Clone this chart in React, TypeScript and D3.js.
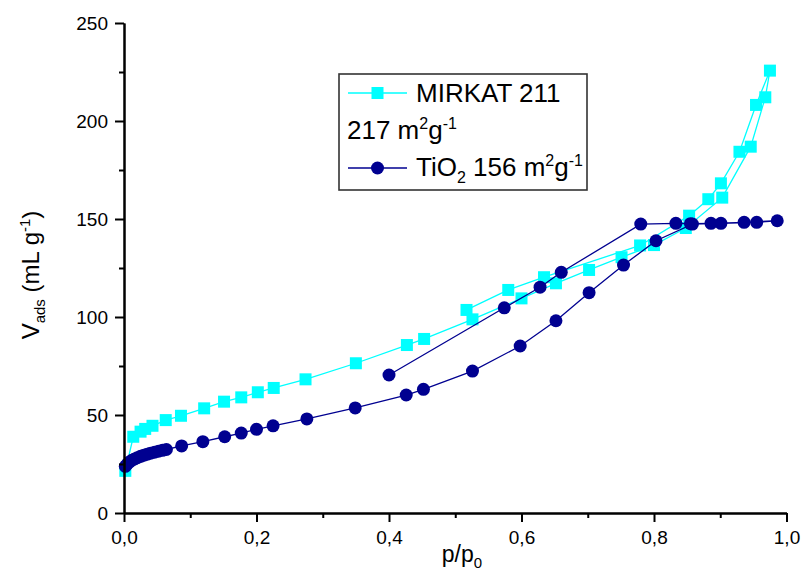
import React, { useEffect, useRef } from "react";
import * as d3 from "d3";

// MIRKAT 211 (adsorption then desorption)
const mirkatAdsP = [0.002, 0.014, 0.025, 0.032, 0.043, 0.063, 0.086, 0.121, 0.151, 0.177, 0.202, 0.226, 0.274, 0.350, 0.427, 0.453, 0.526, 0.600, 0.652, 0.702, 0.751, 0.800, 0.848, 0.903, 0.946, 0.968, 0.975];
const mirkatAdsV = [21.5, 38.9, 41.5, 42.9, 44.5, 47.4, 49.6, 53.4, 56.8, 59.0, 61.6, 63.8, 68.2, 76.4, 85.7, 88.8, 98.8, 109.5, 117.2, 124.0, 130.5, 136.7, 145.4, 160.9, 186.9, 212.1, 225.7];
const mirkatDesP = [0.954, 0.929, 0.901, 0.882, 0.853, 0.779, 0.634, 0.580, 0.517];
const mirkatDesV = [208.2, 184.3, 168.2, 160.1, 151.7, 136.5, 120.3, 113.8, 103.6];

// TiO2 (adsorption then desorption)
const tio2AdsP = [0.002, 0.005, 0.008, 0.012, 0.016, 0.020, 0.025, 0.030, 0.035, 0.040, 0.046, 0.052, 0.058, 0.064, 0.087, 0.119, 0.152, 0.177, 0.200, 0.225, 0.276, 0.349, 0.426, 0.452, 0.526, 0.598, 0.652, 0.702, 0.754, 0.803, 0.858, 0.901, 0.955, 0.986];
const tio2AdsV = [23.8, 25.0, 26.0, 26.9, 27.6, 28.2, 28.9, 29.5, 30.0, 30.5, 31.0, 31.5, 32.0, 32.4, 34.2, 36.4, 38.9, 40.8, 42.7, 44.5, 48.0, 53.6, 60.2, 63.1, 72.4, 85.2, 98.1, 112.4, 126.5, 138.9, 147.4, 147.8, 148.3, 149.1];
const tio2DesP = [0.936, 0.886, 0.855, 0.833, 0.780, 0.660, 0.628, 0.574, 0.400];
const tio2DesV = [148.3, 147.8, 147.6, 147.8, 147.4, 122.8, 115.2, 104.7, 70.4];

const xMajorTicks = [0, 0.2, 0.4, 0.6, 0.8, 1.0];
const xMinorTicks = [0.1, 0.3, 0.5, 0.7, 0.9];
const yMajorTicks = [0, 50, 100, 150, 200, 250];
const yMinorTicks = [25, 75, 125, 175, 225];

const CYAN = "#00FFFF";
const NAVY = "#000090";
const FONT = "'Liberation Sans', Arial, Helvetica, sans-serif";

type Pt = [number, number];
const zipPts = (p: number[], v: number[]): Pt[] => p.map((x, i) => [x, v[i]]);

export default function App() {
  const ref = useRef<SVGSVGElement | null>(null);

  useEffect(() => {
    const svg = d3.select(ref.current);
    svg.selectAll("*").remove();

    const x = d3.scaleLinear().domain([0, 1]).range([124, 786.5]);
    const y = d3.scaleLinear().domain([0, 250]).range([513, 23]);
    const fmtX = (d: number) => d3.format(".1f")(d).replace(".", ",");

    // series
    const series = [
      { pts: zipPts(mirkatAdsP.concat(mirkatDesP), mirkatAdsV.concat(mirkatDesV)), color: CYAN, shape: "square" },
      { pts: zipPts(tio2AdsP.concat(tio2DesP), tio2AdsV.concat(tio2DesV)), color: NAVY, shape: "circle" },
    ];
    const line = d3.line<Pt>().x((d) => x(d[0])).y((d) => y(d[1]));

    series.forEach((s) => {
      const g = svg.append("g");
      g.append("path")
        .attr("d", line(s.pts) as string)
        .attr("fill", "none")
        .attr("stroke", s.color)
        .attr("stroke-width", 1.3);
      if (s.shape === "square") {
        g.selectAll("rect")
          .data(s.pts)
          .join("rect")
          .attr("x", (d) => x(d[0]) - 6)
          .attr("y", (d) => y(d[1]) - 6)
          .attr("width", 12)
          .attr("height", 12)
          .attr("fill", s.color);
      } else {
        g.selectAll("circle")
          .data(s.pts)
          .join("circle")
          .attr("cx", (d) => x(d[0]))
          .attr("cy", (d) => y(d[1]))
          .attr("r", 6.5)
          .attr("fill", s.color);
      }
    });

    // axes
    const xAxis = svg.append("g").attr("transform", `translate(0,${y(0)})`);
    xAxis.call(d3.axisBottom(x).tickValues(xMajorTicks).tickSize(9).tickSizeOuter(0).tickFormat(fmtX as any));
    xAxis.append("g").call(d3.axisBottom(x).tickValues(xMinorTicks).tickSize(5).tickSizeOuter(0).tickFormat(() => ""));
    xAxis.selectAll("path.domain").attr("stroke-width", 2).attr("stroke", "#000");
    xAxis.selectAll(".tick line").attr("stroke-width", 2).attr("stroke", "#000");
    xAxis.selectAll(".tick text")
      .attr("font-family", FONT)
      .attr("font-size", 19)
      .attr("fill", "#000")
      .attr("dy", null)
      .attr("y", 31);

    const yAxis = svg.append("g").attr("transform", `translate(${x(0)},0)`);
    yAxis.call(d3.axisLeft(y).tickValues(yMajorTicks).tickSize(9).tickSizeOuter(0).tickFormat(d3.format("d") as any));
    yAxis.append("g").call(d3.axisLeft(y).tickValues(yMinorTicks).tickSize(5).tickSizeOuter(0).tickFormat(() => ""));
    yAxis.selectAll("path.domain").attr("stroke-width", 2).attr("stroke", "#000");
    yAxis.selectAll(".tick line").attr("stroke-width", 2).attr("stroke", "#000");
    yAxis.selectAll(".tick text")
      .attr("font-family", FONT)
      .attr("font-size", 19)
      .attr("fill", "#000")
      .attr("x", -16)
      .attr("dy", "0.36em");

    // axis titles
    const xt = svg.append("text")
      .attr("x", 462)
      .attr("y", 562)
      .attr("text-anchor", "middle")
      .attr("font-family", FONT)
      .attr("font-size", 23)
      .attr("fill", "#000");
    xt.append("tspan").text("p/p");
    xt.append("tspan").attr("font-size", 15).attr("dy", 6).text("0");

    const yt = svg.append("text")
      .attr("transform", `translate(39,275) rotate(-90)`)
      .attr("text-anchor", "middle")
      .attr("font-family", FONT)
      .attr("font-size", 24)
      .attr("fill", "#000");
    yt.append("tspan").text("V");
    yt.append("tspan").attr("font-size", 15).attr("dy", 6).text("ads");
    yt.append("tspan").attr("dy", -6).text(" (mL g");
    yt.append("tspan").attr("font-size", 15).attr("dy", -9).text("-1");
    yt.append("tspan").attr("dy", 9).text(")");

    // legend
    const lg = svg.append("g");
    lg.append("rect")
      .attr("x", 339)
      .attr("y", 74)
      .attr("width", 248)
      .attr("height", 116)
      .attr("fill", "#fff")
      .attr("stroke", "#333")
      .attr("stroke-width", 1.6);

    lg.append("line").attr("x1", 348).attr("x2", 407).attr("y1", 93).attr("y2", 93).attr("stroke", CYAN).attr("stroke-width", 1.3);
    lg.append("rect").attr("x", 371.5).attr("y", 87).attr("width", 12).attr("height", 12).attr("fill", CYAN);
    lg.append("text")
      .attr("x", 416).attr("y", 102)
      .attr("font-family", FONT).attr("font-size", 26).attr("fill", "#000")
      .text("MIRKAT 211");
    const l2 = lg.append("text")
      .attr("x", 347).attr("y", 139)
      .attr("font-family", FONT).attr("font-size", 26).attr("fill", "#000");
    l2.append("tspan").text("217 m");
    l2.append("tspan").attr("font-size", 16).attr("dy", -10).text("2");
    l2.append("tspan").attr("dy", 10).text("g");
    l2.append("tspan").attr("font-size", 16).attr("dy", -10).text("-1");

    lg.append("line").attr("x1", 348).attr("x2", 407).attr("y1", 168).attr("y2", 168).attr("stroke", NAVY).attr("stroke-width", 1.3);
    lg.append("circle").attr("cx", 377.5).attr("cy", 168).attr("r", 6.5).attr("fill", NAVY);
    const l3 = lg.append("text")
      .attr("x", 416).attr("y", 176)
      .attr("font-family", FONT).attr("font-size", 26).attr("fill", "#000");
    l3.append("tspan").text("TiO");
    l3.append("tspan").attr("font-size", 16).attr("dy", 7).text("2");
    l3.append("tspan").attr("dy", -7).text(" 156 m");
    l3.append("tspan").attr("font-size", 16).attr("dy", -10).text("2");
    l3.append("tspan").attr("dy", 10).text("g");
    l3.append("tspan").attr("font-size", 16).attr("dy", -10).text("-1");
  }, []);

  return (
    <svg
      ref={ref}
      width={803}
      height={575}
      style={{ position: "absolute", left: 0, top: 0, background: "#fff" }}
    />
  );
}
